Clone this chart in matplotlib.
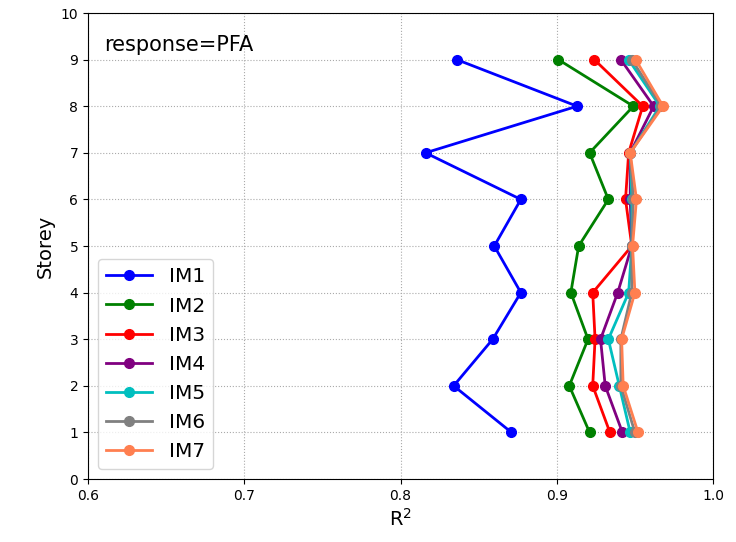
import matplotlib
matplotlib.use("Agg")
import matplotlib.pyplot as plt

storeys = [1, 2, 3, 4, 5, 6, 7, 8, 9]
im1 = [0.871, 0.834, 0.859, 0.877, 0.860, 0.877, 0.816, 0.913, 0.836]
im2 = [0.921, 0.908, 0.920, 0.909, 0.914, 0.933, 0.921, 0.949, 0.901]
im3 = [0.934, 0.923, 0.9245, 0.923, 0.948, 0.944, 0.946, 0.955, 0.924]
im4 = [0.942, 0.931, 0.928, 0.939, 0.948, 0.947, 0.947, 0.962, 0.941]
im5 = [0.947, 0.940, 0.933, 0.946, 0.948, 0.948, 0.947, 0.966, 0.946]
im6 = [0.950, 0.941, 0.941, 0.948, 0.948, 0.949, 0.947, 0.967, 0.948]
im7 = [0.952, 0.9425, 0.9415, 0.950, 0.9485, 0.951, 0.947, 0.968, 0.9505]

series = [("IM1", im1, "blue"), ("IM2", im2, "green"), ("IM3", im3, "red"),
          ("IM4", im4, "purple"), ("IM5", im5, "c"), ("IM6", im6, "grey"),
          ("IM7", im7, "coral")]

fig = plt.figure(figsize=(7.36, 5.42), dpi=100)
ax = fig.add_axes([0.1196, 0.1162, 0.8492, 0.8598])
for name, vals, col in series:
    ax.plot(vals, storeys, "-o", color=col, lw=2, ms=7, label=name)

ax.set_xlim(0.6, 1.0)
ax.set_ylim(0, 10)
ax.set_yticks(range(0, 11))
ax.set_xticks([0.6, 0.7, 0.8, 0.9, 1.0])
ax.grid(True, linestyle=":", color="#aaaaaa")
ax.set_xlabel("R$^2$", fontsize=14)
ax.set_ylabel("Storey", fontsize=14)
ax.text(0.026, 0.932, "response=PFA", transform=ax.transAxes, fontsize=15, va="center")
ax.legend(loc="lower left", fontsize=14.5, handlelength=2.3, borderaxespad=0.5)

fig.savefig("out.png", dpi=100)
